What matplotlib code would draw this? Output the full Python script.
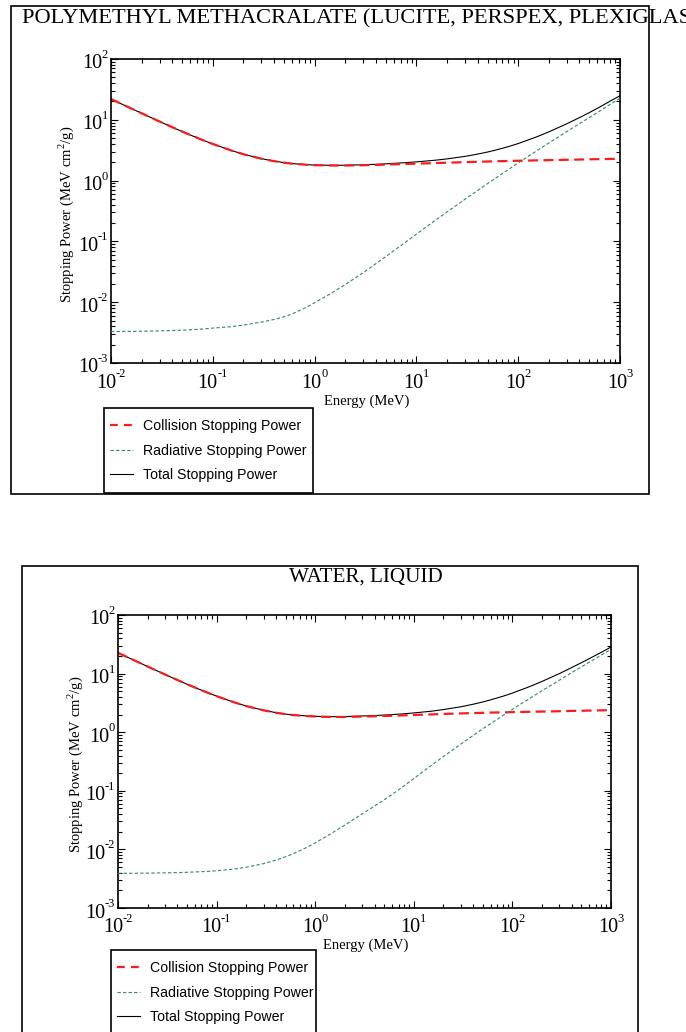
import matplotlib
matplotlib.use("Agg")
import matplotlib.pyplot as plt
from matplotlib.patches import Rectangle
from matplotlib.lines import Line2D
from matplotlib.ticker import LogLocator, NullFormatter
from matplotlib.transforms import offset_copy

plt.rcParams["font.family"] = ["Liberation Serif", "DejaVu Serif"]
plt.rcParams["mathtext.fontset"] = "custom"
plt.rcParams["mathtext.rm"] = "Liberation Serif"

W, H = 686, 1032

# kinetic energy grid (MeV)
energy = [0.01, 0.015, 0.02, 0.03, 0.04, 0.05, 0.06, 0.08, 0.1, 0.15, 0.2, 0.3,
          0.4, 0.5, 0.6, 0.8, 1, 1.5, 2, 3, 4, 5, 6, 8, 10, 15, 20, 30, 40, 50,
          60, 80, 100, 150, 200, 300, 400, 500, 600, 800, 1000]

# PMMA (MeV cm2/g)
pmma_coll = [21.9, 16.0, 12.8, 9.37, 7.55, 6.41, 5.63, 4.62, 4.00, 3.15, 2.71, 2.29,
             2.09, 1.97, 1.90, 1.83, 1.79, 1.77, 1.77, 1.79, 1.81, 1.83, 1.85, 1.88,
             1.90, 1.94, 1.97, 2.01, 2.04, 2.06, 2.08, 2.10, 2.12, 2.15, 2.17, 2.20,
             2.22, 2.24, 2.25, 2.27, 2.29]
pmma_rad = [0.00330, 0.00331, 0.00333, 0.00337, 0.00342, 0.00347, 0.00352, 0.00362,
            0.00375, 0.00395, 0.00420, 0.00470, 0.00520, 0.00575, 0.00640, 0.00800,
            0.0098, 0.0144, 0.0195, 0.0306, 0.0430, 0.0562, 0.0702, 0.100, 0.132,
            0.216, 0.305, 0.493, 0.689, 0.891, 1.097, 1.517, 1.95, 3.05, 4.16, 6.40,
            8.65, 10.9, 13.2, 18.0, 22.6]
pmma_total = [21.90, 16.00, 12.80, 9.373, 7.553, 6.413, 5.634, 4.624, 4.004, 3.154,
              2.714, 2.295, 2.095, 1.976, 1.906, 1.838, 1.800, 1.784, 1.790, 1.821,
              1.853, 1.886, 1.920, 1.980, 2.032, 2.156, 2.275, 2.503, 2.729, 2.951,
              3.177, 3.617, 4.07, 5.20, 6.33, 8.60, 10.87, 13.14, 15.45, 20.27, 24.89]

# liquid water (MeV cm2/g)
water_coll = [22.6, 16.5, 13.2, 9.65, 7.78, 6.60, 5.80, 4.76, 4.12, 3.24, 2.79, 2.36,
              2.15, 2.03, 1.96, 1.89, 1.85, 1.82, 1.82, 1.85, 1.87, 1.89, 1.91, 1.94,
              1.97, 2.01, 2.05, 2.09, 2.12, 2.14, 2.16, 2.18, 2.20, 2.23, 2.25, 2.28,
              2.31, 2.32, 2.34, 2.36, 2.38]
water_rad = [0.00390, 0.00392, 0.00394, 0.00398, 0.00402, 0.00407, 0.00412, 0.00421,
             0.00432, 0.00462, 0.00496, 0.00572, 0.00656, 0.00748, 0.00846, 0.0106,
             0.0129, 0.0193, 0.0260, 0.0405, 0.0550, 0.0700, 0.0860, 0.122, 0.162,
             0.270, 0.385, 0.625, 0.880, 1.14, 1.40, 1.92, 2.45, 3.78, 5.11, 7.73,
             10.4, 13.0, 15.6, 20.8, 26.0]
water_total = [22.60, 16.50, 13.20, 9.654, 7.784, 6.604, 5.804, 4.764, 4.124, 3.245,
               2.795, 2.366, 2.157, 2.037, 1.968, 1.901, 1.863, 1.839, 1.846, 1.891,
               1.925, 1.960, 1.996, 2.062, 2.132, 2.280, 2.435, 2.715, 3.000, 3.28,
               3.56, 4.10, 4.65, 6.01, 7.36, 10.01, 12.71, 15.32, 17.94, 23.16, 28.38]

labels = ["Collision Stopping Power", "Radiative Stopping Power", "Total Stopping Power"]
decades_x = [-2, -1, 0, 1, 2, 3]
decades_y = [-3, -2, -1, 0, 1, 2]
RED = "#ff1a1a"
GREEN = "#2e8b57"
BASE_SIZE = 14.5
SUP_SIZE = 9


def fx(px):
    return px / W


def fy(py):
    return 1 - py / H


def text_width(fig, s, size):
    t = fig.text(0, 0, s, fontsize=size)
    w = t.get_window_extent(renderer=fig.canvas.get_renderer()).width
    t.remove()
    return w


def power_labels(fig, ax):
    # "10" with a small raised exponent, as in the original tick labels
    w10 = text_width(fig, "10", BASE_SIZE)
    xt = ax.get_xaxis_transform()
    for e in decades_x:
        sup = str(e)
        ws = text_width(fig, sup, SUP_SIZE)
        left = -(w10 + ws) / 2
        ax.text(10.0 ** e, 0, "10", fontsize=BASE_SIZE, ha="left", va="center",
                transform=offset_copy(xt, fig=fig, x=left, y=-20, units="dots"))
        ax.text(10.0 ** e, 0, sup, fontsize=SUP_SIZE, ha="left", va="center",
                transform=offset_copy(xt, fig=fig, x=left + w10 - 0.5, y=-11, units="dots"))
    yt = ax.get_yaxis_transform()
    for e in decades_y:
        sup = str(e)
        ws = text_width(fig, sup, SUP_SIZE)
        ax.text(0, 10.0 ** e, sup, fontsize=SUP_SIZE, ha="right", va="center",
                transform=offset_copy(yt, fig=fig, x=-3, y=4, units="dots"))
        ax.text(0, 10.0 ** e, "10", fontsize=BASE_SIZE, ha="right", va="center",
                transform=offset_copy(yt, fig=fig, x=-2.5 - ws, y=-5, units="dots"))


def draw_panel(fig, box, coll, rad, total, ylab_x, legend_box):
    l, t, r, b = box
    ax = fig.add_axes([fx(l), fy(b), (r - l) / W, (b - t) / H])
    ax.plot(energy, total, color="black", lw=0.8, zorder=1)
    ax.plot(energy, coll, color=RED, lw=1.6, ls=(0, (4.5, 2.4)), zorder=2)
    ax.plot(energy, rad, color=GREEN, lw=0.8, ls=(0, (3, 2)), zorder=3)
    ax.set_xscale("log")
    ax.set_yscale("log")
    ax.set_xlim(1e-2, 1e3)
    ax.set_ylim(1e-3, 1e2)
    for axis in (ax.xaxis, ax.yaxis):
        axis.set_major_locator(LogLocator(base=10, numticks=12))
        axis.set_minor_locator(LogLocator(base=10, subs=range(2, 10), numticks=12))
        axis.set_minor_formatter(NullFormatter())
    ax.tick_params(which="both", direction="in", top=True, right=True, width=0.8,
                   labelbottom=False, labelleft=False)
    ax.tick_params(which="major", length=5)
    ax.tick_params(which="minor", length=2.8)
    for s in ax.spines.values():
        s.set_linewidth(1.2)
    power_labels(fig, ax)
    ax.set_xlabel("Energy (MeV)", fontsize=10.5)
    ax.xaxis.set_label_coords(0.503, -0.105)
    ax.set_ylabel("Stopping Power (MeV cm$^2$/g)", fontsize=10.5)
    ax.yaxis.set_label_coords(ylab_x, 0.49)

    # legend: frame drawn separately so its size matches the original box
    bl, bt, br, bb = legend_box
    fig.add_artist(Rectangle((fx(bl), fy(bb)), (br - bl) / W, (bb - bt) / H,
                             transform=fig.transFigure, fill=True, fc="white",
                             ec="black", lw=1.2, zorder=5))
    handles = [Line2D([], [], color=RED, lw=1.6, ls=(0, (3.5, 2.8))),
               Line2D([], [], color=GREEN, lw=0.8, ls=(0, (3, 2))),
               Line2D([], [], color="black", lw=0.8)]
    leg = fig.legend(handles, labels, loc="upper left",
                     bbox_to_anchor=(fx(bl), fy(bt + 5)),
                     bbox_transform=fig.transFigure, borderaxespad=0,
                     prop={"family": "Liberation Sans", "size": 10.2},
                     frameon=False, handlelength=1.6, handletextpad=0.72,
                     labelspacing=0.74, borderpad=0.45)
    leg.set_zorder(6)
    return ax


fig = plt.figure(figsize=(W / 100, H / 100), dpi=100)

# outer frames
fig.add_artist(Rectangle((fx(11), fy(494)), (649 - 11) / W, (494 - 6) / H,
                         transform=fig.transFigure, fill=False, ec="black", lw=1.2))
fig.add_artist(Rectangle((fx(22), fy(1045)), (638 - 22) / W, (1045 - 566) / H,
                         transform=fig.transFigure, fill=False, ec="black", lw=1.2))

fig.text(fx(22), fy(19), "POLYMETHYL METHACRALATE (LUCITE, PERSPEX, PLEXIGLASS)",
         fontsize=16.2, ha="left", va="center")
fig.text(fx(366), fy(577), "WATER, LIQUID", fontsize=15.2, ha="center", va="center")

draw_panel(fig, (111, 59, 620, 363), pmma_coll, pmma_rad, pmma_total, -0.069,
           (104, 408, 313, 493))
draw_panel(fig, (118, 615, 611, 908), water_coll, water_rad, water_total, -0.067,
           (111, 950, 316, 1045))

fig.savefig("out.png", dpi=100)
